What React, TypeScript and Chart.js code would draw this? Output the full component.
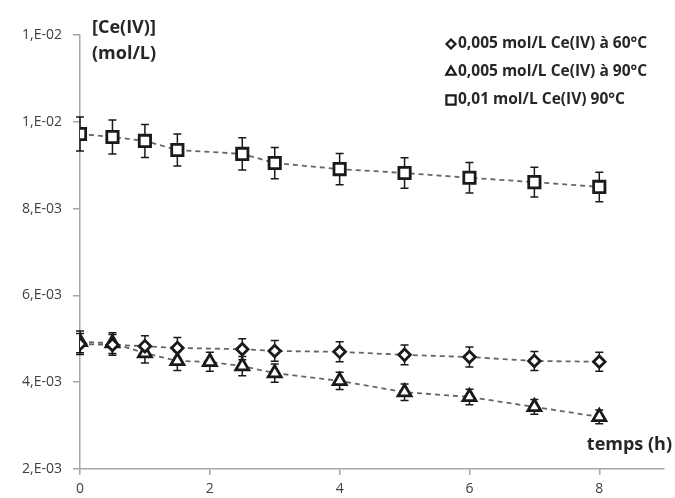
import React, { useEffect, useRef } from "react";
import { Chart, registerables } from "chart.js";
import { drawPoint } from "chart.js/helpers";

Chart.register(...registerables);

// ---- Data ----
const seriesLabels = [
  "0,005 mol/L Ce(IV) à 60°C",
  "0,005 mol/L Ce(IV) à 90°C",
  "0,01 mol/L Ce(IV) 90°C",
];

const time60 = [0, 0.5, 1, 1.5, 2.5, 3, 4, 5, 6, 7, 8];
const ce60 = [0.00488, 0.00486, 0.00483, 0.00479, 0.00476, 0.00472, 0.0047, 0.00463, 0.00458, 0.00449, 0.00447];
const err60 = [0.00024, 0.00024, 0.00024, 0.00024, 0.00024, 0.00024, 0.00023, 0.00023, 0.00023, 0.00022, 0.00022];

const time90 = [0, 0.5, 1, 1.5, 2, 2.5, 3, 4, 5, 6, 7, 8];
const ce90 = [0.00493, 0.0049, 0.00467, 0.00449, 0.00447, 0.00437, 0.00421, 0.00403, 0.00377, 0.00366, 0.00343, 0.0032];
const err90 = [0.00025, 0.00024, 0.00023, 0.00022, 0.00022, 0.00022, 0.00021, 0.0002, 0.00019, 0.00018, 0.00017, 0.00016];

const time90b = [0, 0.5, 1, 1.5, 2.5, 3, 4, 5, 6, 7, 8];
const ce90b = [0.00972, 0.00965, 0.00956, 0.00935, 0.00926, 0.00905, 0.00891, 0.00882, 0.00871, 0.00861, 0.0085];
const err90b = [0.00039, 0.00039, 0.00038, 0.00037, 0.00037, 0.00036, 0.00036, 0.00035, 0.00035, 0.00034, 0.00034];

const xMin = 0;
const xMax = 9;
const xStep = 2;
const yMin = 0.002;
const yMax = 0.012;
const yStep = 0.002;

const yTitleLines = ["[Ce(IV)]", "(mol/L)"];
const xTitle = "temps (h)";

const FONT = "'Open Sans', 'DejaVu Sans', sans-serif";
const INK = "#1a1a1a";

const fmtSci = (v: number) => {
  if (v <= 0) return "0";
  const e = Math.floor(Math.log10(v) + 1e-9);
  const m = Math.round(v / Math.pow(10, e));
  const sign = e < 0 ? "-" : "+";
  return `${m},E${sign}${String(Math.abs(e)).padStart(2, "0")}`;
};

const errorsByDataset = [err60, err90, err90b];
const legendStyles = [
  { style: "rectRot", radius: 4.5 },
  { style: "triangle", radius: 5.5 },
  { style: "rect", radius: 6.5 },
];

const errorBarPlugin = {
  id: "errorBars",
  beforeDatasetsDraw(chart: any) {
    const ctx = chart.ctx;
    const xs = chart.scales.x;
    const ys = chart.scales.y;
    ctx.save();
    ctx.strokeStyle = INK;
    ctx.lineWidth = 1.5;
    ctx.setLineDash([]);
    chart.data.datasets.forEach((ds: any, i: number) => {
      const errs = errorsByDataset[i];
      ds.data.forEach((p: any, j: number) => {
        const e = errs[j];
        const px = xs.getPixelForValue(p.x);
        const top = ys.getPixelForValue(p.y + e);
        const bot = ys.getPixelForValue(p.y - e);
        const cap = 4;
        ctx.beginPath();
        ctx.moveTo(px, top);
        ctx.lineTo(px, bot);
        ctx.moveTo(px - cap, top);
        ctx.lineTo(px + cap, top);
        ctx.moveTo(px - cap, bot);
        ctx.lineTo(px + cap, bot);
        ctx.stroke();
      });
    });
    ctx.restore();
  },
};

const annotationsPlugin = {
  id: "annotations",
  afterDraw(chart: any) {
    const ctx = chart.ctx;
    ctx.save();
    // axis titles
    ctx.fillStyle = "#262626";
    ctx.font = `bold 18px ${FONT}`;
    ctx.textAlign = "left";
    ctx.textBaseline = "middle";
    ctx.fillText(yTitleLines[0], 92, 28);
    ctx.fillText(yTitleLines[1], 92, 54);
    ctx.textAlign = "right";
    ctx.fillText(xTitle, 672, 445);

    // legend
    ctx.font = `bold 15.5px ${FONT}`;
    ctx.textAlign = "left";
    const rowsY = [44, 72, 100];
    seriesLabels.forEach((lab, i) => {
      const st = legendStyles[i];
      ctx.save();
      ctx.strokeStyle = INK;
      ctx.fillStyle = "#ffffff";
      ctx.lineWidth = 2.2;
      drawPoint(ctx, { pointStyle: st.style, radius: st.radius, rotation: 0, borderWidth: 2.2 } as any, 451, rowsY[i]);
      ctx.restore();
      ctx.fillStyle = "#262626";
      ctx.fillText(lab, 458, rowsY[i]);
    });
    ctx.restore();
  },
};

export default function App() {
  const canvasRef = useRef<HTMLCanvasElement | null>(null);

  useEffect(() => {
    if (!canvasRef.current) return;
    Chart.defaults.font.family = FONT;
    const common = {
      showLine: true,
      borderColor: "#666666",
      borderWidth: 1.8,
      borderDash: [5, 4],
      pointBackgroundColor: "#ffffff",
      pointBorderColor: INK,
      pointBorderWidth: 2.8,
      pointHoverRadius: 0,
      fill: false,
    };
    const chart = new Chart(canvasRef.current, {
      type: "scatter",
      data: {
        datasets: [
          {
            ...common,
            label: seriesLabels[0],
            data: time60.map((t, i) => ({ x: t, y: ce60[i] })),
            pointStyle: "rectRot",
            pointRadius: 5.8,
          },
          {
            ...common,
            label: seriesLabels[1],
            data: time90.map((t, i) => ({ x: t, y: ce90[i] })),
            pointStyle: "triangle",
            pointRadius: 7.5,
          },
          {
            ...common,
            label: seriesLabels[2],
            data: time90b.map((t, i) => ({ x: t, y: ce90b[i] })),
            pointStyle: "rect",
            pointRadius: 8,
          },
        ],
      } as any,
      options: {
        responsive: true,
        maintainAspectRatio: false,
        animation: false,
        layout: { padding: { top: 35, right: 0, left: 0, bottom: 0 } },
        plugins: {
          legend: { display: false },
          tooltip: { enabled: false },
        },
        scales: {
          x: {
            type: "linear",
            min: xMin,
            max: xMax,
            afterFit: (s: any) => {
              s.height = 29;
            },
            ticks: {
              stepSize: xStep,
              includeBounds: false,
              color: "#404040",
              font: { size: 14 },
              padding: 6,
              maxRotation: 0,
            },
            grid: {
              display: true,
              drawOnChartArea: false,
              drawTicks: true,
              tickLength: 6,
              color: "#a6a6a6",
              lineWidth: 1.5,
            },
            border: { display: true, color: "#a6a6a6", width: 1.5 },
          },
          y: {
            type: "linear",
            min: yMin,
            max: yMax,
            afterFit: (s: any) => {
              s.width = 80;
            },
            ticks: {
              stepSize: yStep,
              color: "#404040",
              font: { size: 14 },
              padding: 11,
              callback: (v: any) => fmtSci(Number(v)),
            },
            grid: {
              display: true,
              drawOnChartArea: false,
              drawTicks: true,
              tickLength: 7,
              color: "#a6a6a6",
              lineWidth: 1.5,
            },
            border: { display: true, color: "#a6a6a6", width: 1.5 },
          },
        },
      } as any,
      plugins: [errorBarPlugin, annotationsPlugin],
    });
    return () => chart.destroy();
  }, []);

  return (
    <div style={{ position: "fixed", left: 0, top: 0, width: "675px", height: "498px", background: "#fff" }}>
      <canvas ref={canvasRef} />
    </div>
  );
}
